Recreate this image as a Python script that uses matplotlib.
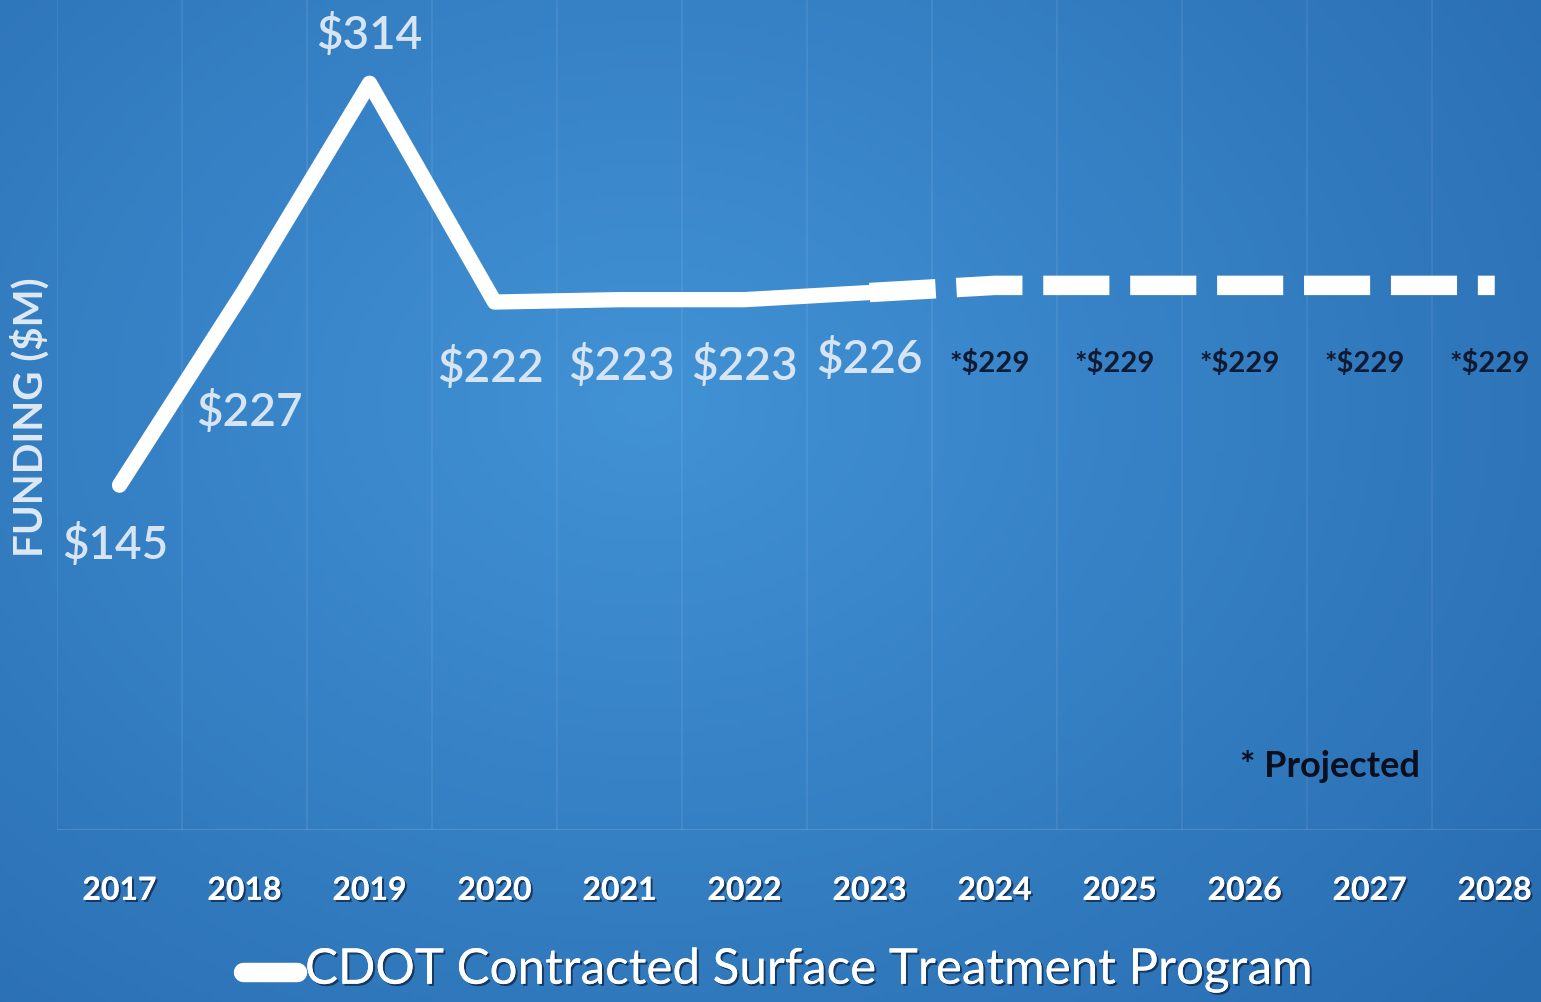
import numpy as np
import matplotlib.pyplot as plt
import matplotlib.patheffects as pe

# data
years = ["2017", "2018", "2019", "2020", "2021", "2022", "2023",
         "2024", "2025", "2026", "2027", "2028"]
actual = [145, 227, 314, 222, 223, 223, 226]
projected = [226, 229, 229, 229, 229, 229]
actual_labels = ["$145", "$227", "$314", "$222", "$223", "$223", "$226"]
projected_labels = ["*$229"] * 5

plt.rcParams['font.family'] = ['Lato', 'DejaVu Sans']

fig = plt.figure(figsize=(15.41, 10.02), dpi=100)

# background gradient
bg = fig.add_axes([0, 0, 1, 1])
yy, xx = np.mgrid[0:1:200j, 0:1:300j]
d = np.sqrt(((xx - 0.42) / 0.75) ** 2 + ((yy - 0.6) / 0.9) ** 2)
d = np.clip(d, 0, 1)
c_in = np.array([66, 146, 214]) / 255
c_out = np.array([40, 108, 176]) / 255
img = c_in[None, None, :] * (1 - d[..., None]) + c_out[None, None, :] * d[..., None]
bg.imshow(img, extent=[0, 1, 0, 1], aspect="auto", origin="lower")
bg.axis("off")

ax = fig.add_axes([57 / 1541, 172 / 1002, 1 - 57 / 1541, 830 / 1002])
ax.patch.set_alpha(0)
x = np.arange(len(years))
ax.set_xlim(-0.5, 11.37)
ax.set_ylim(0, 349)

# faint category grid
for xb in np.arange(-0.5, 12, 1):
    ax.axvline(xb, color="white", alpha=0.07, lw=1.5)
ax.axhline(0, color="white", alpha=0.15, lw=2)

ax.plot(x[:7], actual, color="white", lw=11, solid_capstyle="round",
        solid_joinstyle="round")
ax.plot(x[6:], projected, color="white", lw=14, dashes=(3.4, 1.07),
        dash_capstyle="butt")

lab_col = "#d6e4f4"
offsets = [(-4, -60), (5, -122), (0, 48), (-4, -66), (2, -66), (0, -66), (0, -66)]
for i, (v, t) in enumerate(zip(actual, actual_labels)):
    ax.annotate(t, (x[i], v), xytext=offsets[i], textcoords="offset pixels",
                ha="center", va="center", color=lab_col, fontsize=33,
                fontweight="semibold")
for i, t in enumerate(projected_labels):
    ax.annotate(t, (x[7 + i], projected[1 + i]), xytext=(-5, -78),
                textcoords="offset pixels", ha="center", va="center",
                color="#0f1a33", fontsize=21, fontweight="bold")

ax.text(0.858, 0.077, "* Projected", transform=ax.transAxes, ha="center",
        va="center", fontsize=26, fontweight="bold", color="#0a0f1e")

shadow = [pe.withSimplePatchShadow(offset=(1.5, -1.5), shadow_rgbFace="#10284a",
                                   alpha=0.8), pe.Normal()]
ax.set_xticks(x)
ax.set_xticklabels(years, fontsize=23, fontweight="bold", color="white")
for lbl in ax.get_xticklabels():
    lbl.set_path_effects(shadow)
ax.tick_params(axis="x", length=0, pad=33)
ax.set_yticks([])
for s in ax.spines.values():
    s.set_visible(False)

fig.text(30 / 1541, 1 - 417 / 1002, "FUNDING ($M)", rotation=90, ha="center",
         va="center", fontsize=29, fontweight="bold", color="#dfe9f5")

# legend
fig.add_artist(plt.Line2D([243 / 1541, 297 / 1541], [1 - 972 / 1002] * 2,
                          color="white", lw=14, solid_capstyle="round"))
fig.text(305 / 1541, 1 - 970 / 1002, "CDOT Contracted Surface Treatment Program",
         ha="left", va="center", fontsize=35.5, color="white",
         path_effects=shadow)

fig.savefig("out.png", dpi=100)
